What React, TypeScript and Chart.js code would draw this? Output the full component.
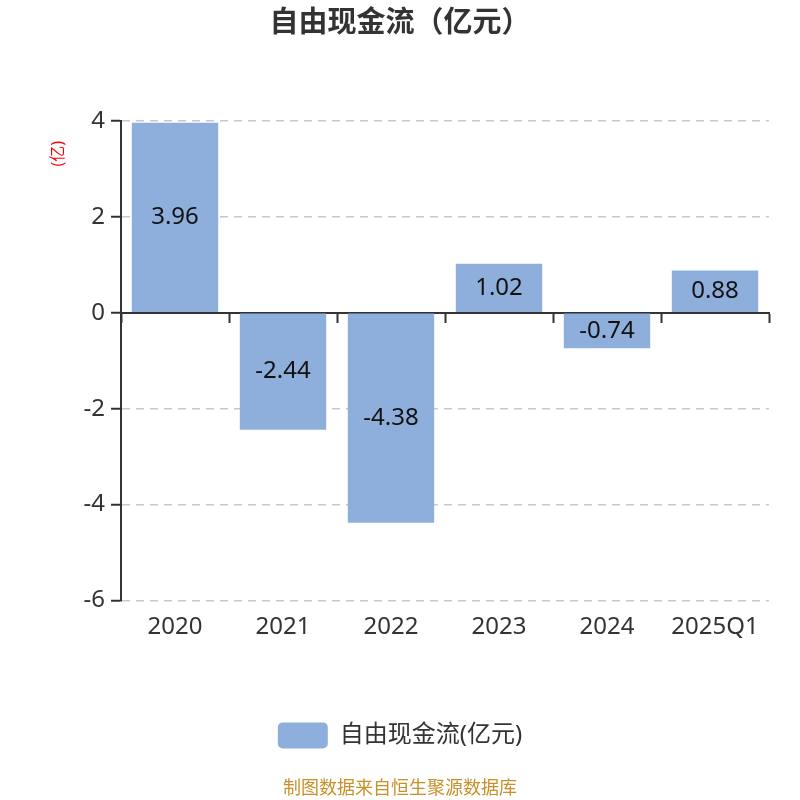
import { useRef, useEffect } from 'react';
import { Chart, registerables, type ChartConfiguration } from 'chart.js';

Chart.register(...registerables);

const categories = ['2020', '2021', '2022', '2023', '2024', '2025Q1'];
const freeCashFlow = [3.96, -2.44, -4.38, 1.02, -0.74, 0.88];
const seriesName = '自由现金流(亿元)';
const titleText = '自由现金流（亿元）';
const unitText = '(亿)';
const sourceText = '制图数据来自恒生聚源数据库';

const FONT = '"Noto Sans", "Noto Sans CJK SC", sans-serif';
const BAR = '#8eaedb';

// writes the value in the middle of each bar
const barValues = {
    id: 'barValues',
    afterDatasetsDraw(chart: any) {
        const ctx = chart.ctx;
        const meta = chart.getDatasetMeta(0);
        const values = chart.data.datasets[0].data as number[];
        ctx.save();
        ctx.font = `24px ${FONT}`;
        ctx.fillStyle = '#111';
        ctx.textAlign = 'center';
        ctx.textBaseline = 'middle';
        meta.data.forEach((bar: any, i: number) => {
            ctx.fillText(values[i].toFixed(2), bar.x, (bar.y + bar.base) / 2);
        });
        ctx.restore();
    },
};

// red unit label, rotated, near the top of the value axis
const unitLabel = {
    id: 'unitLabel',
    afterDraw(chart: any) {
        const ctx = chart.ctx;
        const y = chart.scales.y;
        ctx.save();
        ctx.translate(y.left + 27, chart.chartArea.top + 33);
        ctx.rotate(-Math.PI / 2);
        ctx.font = `16px ${FONT}`;
        ctx.fillStyle = 'red';
        ctx.textAlign = 'center';
        ctx.textBaseline = 'middle';
        ctx.fillText(unitText, 0, 0);
        ctx.restore();
    },
};

export default function App() {
    const chartRef = useRef<HTMLCanvasElement>(null);

    useEffect(() => {
        if (!chartRef.current) return;
        const config = {
            type: 'bar',
            data: {
                labels: categories,
                datasets: [{
                    label: seriesName,
                    data: freeCashFlow,
                    backgroundColor: BAR,
                    categoryPercentage: 0.8,
                    barPercentage: 1,
                }],
            },
            options: {
                animation: false,
                responsive: false,
                layout: { padding: { left: 31, right: 31, top: 0, bottom: 0 } },
                plugins: {
                    title: {
                        display: true,
                        text: titleText,
                        color: '#333',
                        font: { family: FONT, size: 29, weight: 'bold' },
                        padding: { top: 6, bottom: 80 },
                    },
                    subtitle: {
                        display: true,
                        position: 'bottom',
                        text: sourceText,
                        color: '#c8902a',
                        font: { family: FONT, size: 18 },
                        padding: { top: 20, bottom: 0 },
                    },
                    legend: {
                        position: 'bottom',
                        title: { display: true, text: '', font: { size: 10 }, padding: { top: 0, bottom: 35 } },
                        labels: {
                            boxWidth: 50,
                            boxHeight: 26,
                            useBorderRadius: true,
                            borderRadius: 5,
                            color: '#333',
                            font: { family: FONT, size: 24 },
                            padding: 30,
                        },
                    },
                    tooltip: { enabled: false },
                },
                scales: {
                    x: {
                        grid: { display: false },
                        border: { display: false },
                        ticks: { color: '#333', font: { family: FONT, size: 24 }, padding: 4 },
                    },
                    xZero: {
                        type: 'category',
                        labels: categories,
                        position: { y: 0 },
                        offset: true,
                        z: 1,
                        ticks: { display: false },
                        grid: {
                            offset: true,
                            drawOnChartArea: false,
                            tickLength: 9,
                            tickWidth: 2,
                            tickColor: '#333',
                        },
                        border: { color: '#333', width: 2 },
                    },
                    y: {
                        min: -6,
                        max: 4,
                        afterFit: (scale: any) => {
                            scale.width = 90;
                        },
                        ticks: {
                            stepSize: 2,
                            color: '#333',
                            font: { family: FONT, size: 24 },
                            padding: 6,
                        },
                        grid: {
                            color: '#c8c8c8',
                            lineWidth: 1.5,
                            tickLength: 10,
                            tickWidth: 2,
                            tickColor: '#333',
                            tickBorderDash: [],
                        },
                        border: { color: '#333', width: 2, dash: [8, 6] },
                    },
                },
            },
            plugins: [barValues, unitLabel],
        };
        const chart = new Chart(chartRef.current, config as ChartConfiguration);
        return () => {
            chart.destroy();
        };
    }, []);

    return (
        <div style={{ position: 'fixed', left: 0, top: 0, width: 800, height: 800, background: '#fff' }}>
            <canvas ref={chartRef} width={800} height={800}></canvas>
        </div>
    );
}
